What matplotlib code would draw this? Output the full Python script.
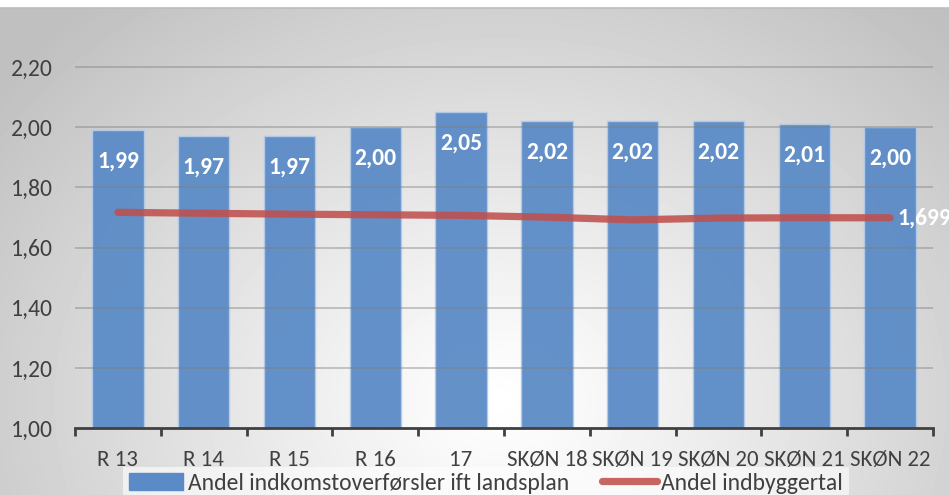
import matplotlib.pyplot as plt
import numpy as np
from matplotlib import font_manager
from matplotlib.patches import Rectangle
from matplotlib.lines import Line2D

categories = ['R 13', 'R 14', 'R 15', 'R 16', '17', 'SKØN 18', 'SKØN 19', 'SKØN 20', 'SKØN 21', 'SKØN 22']
andel_indkomst = [1.99, 1.97, 1.97, 2.00, 2.05, 2.02, 2.02, 2.02, 2.01, 2.00]
andel_indbyggere = [1.717, 1.714, 1.711, 1.709, 1.707, 1.701, 1.692, 1.698, 1.699, 1.699]
y_ticks = [1.00, 1.20, 1.40, 1.60, 1.80, 2.00, 2.20]

BAR_COLOR = '#5b8bc6'
LINE_COLOR = '#c0504d'
TEXT_COLOR = '#404040'


def pick_font(candidates, default='Lato'):
    names = {f.name for f in font_manager.fontManager.ttflist}
    for c in candidates:
        if c in names:
            return c
    return default


TEXT_FONT = pick_font(['Carlito', 'Lato'])
LABEL_FONT = pick_font(['Carlito', 'Lato'])


def radial_background(fig):
    # soft grey-to-white radial fill behind the whole chart
    w, h = 949, 495
    yy, xx = np.mgrid[0:h, 0:w]
    d = np.sqrt(((xx - 500) / 640.0) ** 2 + ((yy - 400) / 520.0) ** 2)
    shade = 1.0 - 0.25 * np.clip(d, 0, 1) ** 1.1
    bg = fig.add_axes([0, 0, 1, 1], zorder=-10)
    bg.imshow(shade, cmap='gray', vmin=0, vmax=1, aspect='auto', interpolation='bilinear')
    bg.set_axis_off()
    # white strip and frame line along the top edge
    fig.patches.append(Rectangle((0, 487 / 495), 1, 8 / 495, transform=fig.transFigure,
                                 facecolor='white', edgecolor='none', zorder=5))
    fig.lines.append(Line2D([0, 1], [487 / 495, 487 / 495], transform=fig.transFigure,
                            color='#bdbdbd', lw=1.2, zorder=6))


def main():
    fig = plt.figure(figsize=(9.49, 4.95), dpi=100)
    radial_background(fig)

    ax = fig.add_axes([75 / 949, 67 / 495, 858 / 949, 391 / 495])
    ax.patch.set_alpha(0)

    x = np.arange(len(categories))
    bars = ax.bar(x, andel_indkomst, width=0.6, color=BAR_COLOR, alpha=0.95, edgecolor='#b3cbe8',
                  linewidth=1.0, zorder=2, label='Andel indkomstoverførsler ift landsplan')
    ax.plot(x, andel_indbyggere, color=LINE_COLOR, lw=5.2, alpha=0.88, solid_capstyle='round',
            zorder=4, label='Andel indbyggertal')

    for rect, v in zip(bars, andel_indkomst):
        ax.annotate(f'{v:.2f}'.replace('.', ','), (rect.get_x() + rect.get_width() / 2, v),
                    xytext=(0, -22), textcoords='offset points', ha='center', va='center',
                    color='white', fontsize=17, fontweight='bold', family=LABEL_FONT, zorder=5)

    last = andel_indbyggere[-1]
    ax.annotate(f'{last:.3f}'.replace('.', ','), (x[-1], last), xytext=(5, 0),
                textcoords='offset points', ha='left', va='center', color='white',
                fontsize=17, fontweight='bold', family=LABEL_FONT, zorder=5, annotation_clip=False)

    ax.set_ylim(1.0, 2.3)
    ax.set_xlim(-0.5, len(categories) - 0.5)
    ax.set_yticks(y_ticks)
    ax.set_yticklabels([f'{t:.2f}'.replace('.', ',') for t in y_ticks], family=TEXT_FONT,
                       fontsize=17, color=TEXT_COLOR)
    ax.tick_params(axis='y', length=0, pad=16)
    for t in y_ticks[1:]:
        ax.axhline(t, color='#7f7f7f', lw=1.3, alpha=0.45, zorder=3)

    ax.set_xticks(x)
    ax.set_xticklabels(categories, family=TEXT_FONT, fontsize=16.5, color=TEXT_COLOR)
    ax.set_xticks(np.arange(len(categories) + 1) - 0.5, minor=True)
    ax.tick_params(axis='x', which='major', length=0, pad=16)
    ax.tick_params(axis='x', which='minor', length=6, width=2, color=TEXT_COLOR, direction='out')

    for side in ('left', 'right', 'top'):
        ax.spines[side].set_visible(False)
    ax.spines['bottom'].set_color(TEXT_COLOR)
    ax.spines['bottom'].set_linewidth(2)
    ax.spines['bottom'].set_zorder(6)

    handles = [Rectangle((0, 0), 1, 1, color=BAR_COLOR),
               Line2D([], [], color=LINE_COLOR, lw=5.2, alpha=0.88, solid_capstyle='round')]
    leg = fig.legend(handles, ['Andel indkomstoverførsler ift landsplan', 'Andel indbyggertal'],
                     loc='center', bbox_to_anchor=(486 / 949, 12 / 495), ncol=2, frameon=True,
                     facecolor='white', edgecolor='none', framealpha=0.6, fancybox=False,
                     prop={'family': TEXT_FONT, 'size': 17}, handlelength=2.3, handletextpad=0.2,
                     columnspacing=1.4, borderpad=0.25, borderaxespad=0, labelcolor=TEXT_COLOR)
    # keep the tick labels drawn above the legend box
    leg.set_zorder(-5)

    fig.savefig('out.png', dpi=100)


if __name__ == '__main__':
    main()
